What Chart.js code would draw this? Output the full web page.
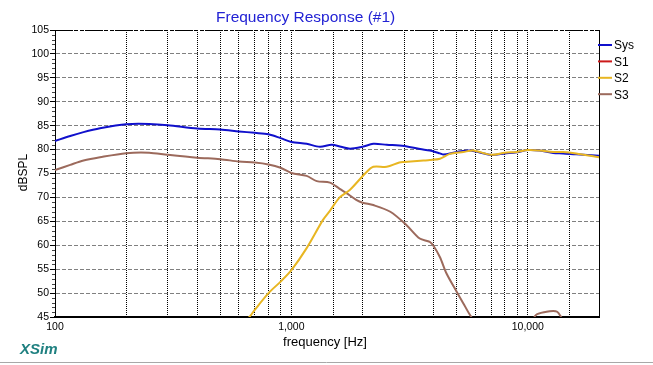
<!DOCTYPE html>
<html>
<head>
<meta charset="utf-8">
<script src="https://cdn.jsdelivr.net/npm/chart.js@4.4.1/dist/chart.umd.min.js"></script>
<style>
  body { margin: 0; background: #fff; }
  #wrap { width: 653px; height: 365px; }
</style>
</head>
<body>
<div id="wrap"><canvas id="fr" width="653" height="365"></canvas></div>
<script>
// values: frequency (Hz) and level (dB SPL)
let sysHz = [100, 116, 132, 155, 200, 250, 300, 400, 500, 600, 700, 800, 900, 1000, 1160, 1320, 1480, 1620, 1770, 2000, 2220, 2530, 3000, 3500, 3850, 4250, 4400, 5000, 5700, 7000, 8000, 9000, 10000, 11240, 12800, 14100, 16000, 20000];
let sysDb = [81.8, 82.85, 83.65, 84.45, 85.3, 85.35, 85.1, 84.4, 84.2, 83.8, 83.5, 83.2, 82.4, 81.6, 81.2, 80.6, 81.0, 80.6, 80.2, 80.6, 81.2, 81.0, 80.75, 80.1, 79.8, 79.2, 78.95, 79.5, 79.8, 78.9, 79.2, 79.45, 79.9, 79.8, 79.3, 79.2, 79.0, 78.7];

let s1Hz = [];
let s1Db = [];

let s2Hz = [600, 674, 700, 800, 900, 1000, 1160, 1360, 1455, 1600, 1770, 2050, 2220, 2530, 2860, 3000, 3620, 3850, 4250, 4680, 5330, 5870, 7000, 8000, 9000, 10000, 11240, 12800, 14100, 16000, 20000];
let s2Db = [42.5, 45.4, 46.5, 50.0, 52.4, 54.8, 59.4, 65.3, 67.2, 70.0, 71.6, 75.0, 76.4, 76.4, 77.3, 77.4, 77.7, 77.8, 78.1, 79.1, 79.5, 79.8, 78.9, 79.35, 79.5, 79.9, 79.8, 79.5, 79.5, 79.2, 78.4];

let s3Hz = [100, 116, 132, 155, 200, 250, 300, 400, 500, 600, 700, 800, 900, 1000, 1160, 1280, 1455, 1600, 1710, 1880, 2000, 2220, 2620, 3070, 3490, 3850, 4000, 4250, 4530, 5000, 5330, 5730, 6200, 8000, 10000, 10810, 12000, 12800, 13300, 13750, 15000, 20000];
let s3Db = [75.7, 76.8, 77.7, 78.4, 79.25, 79.35, 78.9, 78.3, 78.0, 77.5, 77.3, 76.9, 76.2, 75.1, 74.5, 73.4, 73.1, 71.8, 70.9, 69.5, 68.9, 68.4, 67.0, 64.2, 61.4, 60.7, 59.8, 57.5, 54.1, 50.3, 47.9, 45.2, 43.0, 38.0, 42.0, 45.4, 46.1, 46.25, 46.1, 45.2, 42.0, 38.0];

let seriesNames = ['Sys', 'S1', 'S2', 'S3'];
let seriesColors = ['#1010cc', '#cc1a1a', '#e8b622', '#9c6a5c'];

let xLabelsShown = [100, 1000, 10000];
let yMin = 45, yMax = 105, yStep = 5;

const FONT = "'Liberation Sans', Arial, sans-serif";

let toPoints = function (hz, db) {
  return hz.map(function (f, i) { return { x: f, y: db[i] }; });
};

let allHz = [sysHz, s1Hz, s2Hz, s3Hz];
let allDb = [sysDb, s1Db, s2Db, s3Db];
// S2 sits on top of Sys where they overlap
let drawOrder = [1, 1, 0, 1];

let datasets = seriesNames.map(function (name, i) {
  return {
    label: name,
    data: toPoints(allHz[i], allDb[i]),
    borderColor: seriesColors[i],
    backgroundColor: seriesColors[i],
    borderWidth: 2,
    pointRadius: 0,
    tension: 0.3,
    order: drawOrder[i]
  };
});

// extra bits of the XSim frame: title, axis names, legend, minor ticks
let decor = {
  id: 'decor',
  afterDraw: function (chart) {
    let ctx = chart.ctx;
    let a = chart.chartArea;
    let y = chart.scales.y;
    ctx.save();

    // top border (dashed) and right border
    ctx.strokeStyle = '#000';
    ctx.lineWidth = 1;
    ctx.setLineDash([3, 2]);
    ctx.beginPath();
    ctx.moveTo(a.left, a.top + 0.5);
    ctx.lineTo(a.right, a.top + 0.5);
    ctx.stroke();
    ctx.setLineDash([]);
    ctx.beginPath();
    ctx.moveTo(a.right + 0.5, a.top);
    ctx.lineTo(a.right + 0.5, a.bottom);
    ctx.stroke();

    // minor ticks every 1 dB
    ctx.strokeStyle = '#444';
    for (let v = yMin; v <= yMax; v++) {
      if (v % yStep === 0) continue;
      let py = Math.round(y.getPixelForValue(v)) + 0.5;
      ctx.beginPath();
      ctx.moveTo(a.left - 3, py);
      ctx.lineTo(a.left, py);
      ctx.stroke();
    }

    // title
    ctx.fillStyle = '#2222d4';
    ctx.font = '15.5px ' + FONT;
    ctx.textAlign = 'left';
    ctx.textBaseline = 'alphabetic';
    ctx.fillText('Frequency Response (#1)', 216, 22);

    // axis titles
    ctx.fillStyle = '#000';
    ctx.font = '13px ' + FONT;
    ctx.textAlign = 'center';
    ctx.fillText('frequency [Hz]', 325, 346);
    ctx.save();
    ctx.translate(27, 172.5);
    ctx.rotate(-Math.PI / 2);
    ctx.font = '12px ' + FONT;
    ctx.fillText('dBSPL', 0, 0);
    ctx.restore();

    // legend
    ctx.font = '12px ' + FONT;
    ctx.textAlign = 'left';
    ctx.textBaseline = 'middle';
    seriesNames.forEach(function (name, i) {
      let ly = 45 + i * 16.4;
      ctx.strokeStyle = seriesColors[i];
      ctx.lineWidth = 2;
      ctx.beginPath();
      ctx.moveTo(598, ly);
      ctx.lineTo(612, ly);
      ctx.stroke();
      ctx.fillStyle = '#000';
      ctx.fillText(name, 614, ly + 1);
    });

    // XSim tag
    ctx.fillStyle = '#1f8080';
    ctx.font = 'italic bold 15px ' + FONT;
    ctx.textBaseline = 'alphabetic';
    ctx.fillText('XSim', 20, 354);

    // window frame line at the bottom
    ctx.strokeStyle = '#a8a8a8';
    ctx.lineWidth = 1;
    ctx.beginPath();
    ctx.moveTo(0, 362.5);
    ctx.lineTo(653, 362.5);
    ctx.stroke();

    ctx.restore();
  }
};

let chart = new Chart(document.getElementById('fr'), {
  type: 'line',
  data: { datasets: datasets },
  options: {
    responsive: false,
    devicePixelRatio: 1,
    animation: false,
    layout: { padding: { left: 0, top: 30, right: 54, bottom: 0 } },
    plugins: {
      legend: { display: false },
      title: { display: false },
      tooltip: { enabled: false }
    },
    scales: {
      x: {
        type: 'logarithmic',
        min: 100,
        max: 20000,
        afterFit: function (s) { s.height = 48; },
        border: { color: '#000', width: 2, dash: [1, 1] },
        grid: { color: '#000', lineWidth: 1, drawTicks: false },
        ticks: {
          autoSkip: false,
          maxRotation: 0,
          padding: 4,
          color: '#000',
          font: { family: FONT, size: 10.5 },
          callback: function (value) {
            let v = Math.round(value);
            return xLabelsShown.indexOf(v) >= 0 ? v.toLocaleString('en-US') : '';
          }
        }
      },
      y: {
        min: yMin,
        max: yMax,
        afterFit: function (s) { s.width = 55; },
        border: { color: '#000', width: 1, dash: [4, 2] },
        grid: {
          color: function (c) { return c.tick && c.tick.value === yMax ? '#000' : '#808080'; },
          tickColor: '#000',
          tickLength: 5
        },
        ticks: {
          stepSize: yStep,
          padding: 1,
          color: '#000',
          font: { family: FONT, size: 10.5 }
        }
      }
    }
  },
  plugins: [decor]
});
</script>
</body>
</html>
